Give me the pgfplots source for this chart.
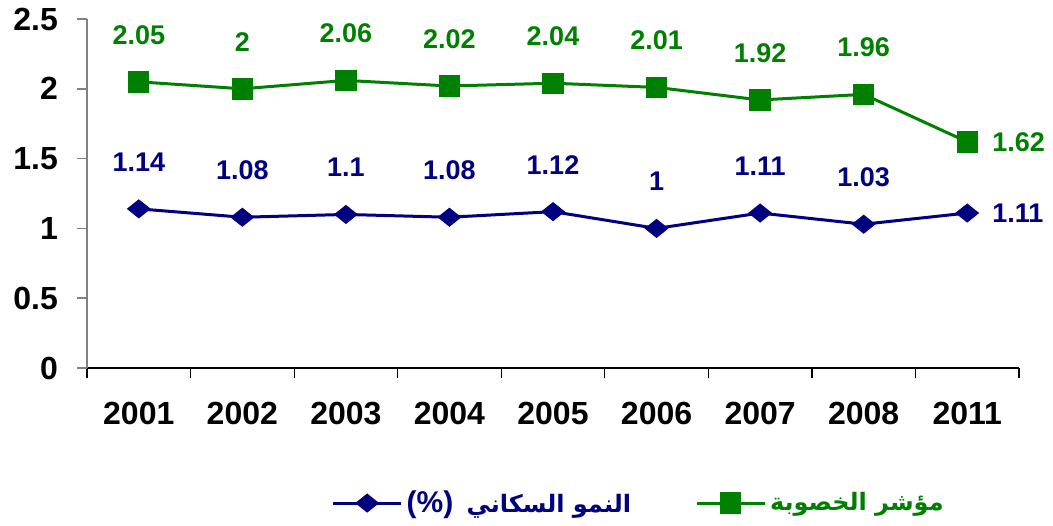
\documentclass[border=0pt]{standalone}
\usepackage{fontspec}
\setmainfont{Liberation Sans}
\newfontfamily\arabicfont[Script=Arabic]{DejaVu Sans}
\TeXXeTstate=1
\usepackage{pgfplots}
\pgfplotsset{compat=1.18}
\definecolor{cgreen}{RGB}{0,128,0}
\definecolor{cblue}{RGB}{0,0,128}
\pgfdeclareplotmark{mydiamond}{%
  \pgfpathmoveto{\pgfqpoint{-6pt}{0pt}}%
  \pgfpathlineto{\pgfqpoint{0pt}{4.8pt}}%
  \pgfpathlineto{\pgfqpoint{6pt}{0pt}}%
  \pgfpathlineto{\pgfqpoint{0pt}{-4.8pt}}%
  \pgfpathclose
  \pgfusepathqfill}
\begin{document}
\begin{tikzpicture}
\begin{axis}[name=ax, scale only axis, width=466pt, height=174.5pt,
  xmin=-0.5, xmax=8.5, ymin=0, ymax=2.5,
  /pgf/number format/assume math mode=true,
  ytick={0,0.5,1,1.5,2,2.5},
  xtick={0,...,8},
  xticklabels={2001,2002,2003,2004,2005,2006,2007,2008,2011},
  major x tick style={draw=none},
  minor xtick={-0.5,0.5,...,8.5},
  tick align=outside,
  major tick length=5pt, minor tick length=5pt,
  axis lines*=left,
  x axis line style={black, line width=0.8pt},
  y axis line style={gray, line width=0.8pt},
  y tick style={gray, line width=0.8pt},
  minor x tick style={black, line width=0.6pt},
  xticklabel style={font=\fontsize{16}{18}\selectfont\bfseries, yshift=-8.5pt},
  yticklabel style={font=\fontsize{16}{18}\selectfont\bfseries, xshift=-6pt},
  legend style={at={(0.593,-0.387)}, anchor=center, draw=none, fill=none,
    legend columns=2, font=\fontsize{12}{14}\selectfont\bfseries,
    /tikz/every even column/.append style={column sep=30pt}},
  legend image code/.code={\draw[mark repeat=2,mark phase=2,#1] plot coordinates {(0pt,0pt) (17pt,0pt) (34pt,0pt)};},
  clip=false,
]
\addplot[cblue, line width=1.5pt, mark=mydiamond]
  coordinates {(0,1.14)(1,1.08)(2,1.1)(3,1.08)(4,1.12)(5,1)(6,1.11)(7,1.03)(8,1.11)};
\addlegendentry{\textcolor{cblue}{{\fontsize{15}{16}\selectfont(\%)}\ \ {\arabicfont\bfseries\beginR النمو السكاني\endR}}}
\addplot[cgreen, line width=1.5pt, mark=square*, mark size=4.6pt, mark options={solid}]
  coordinates {(0,2.05)(1,2)(2,2.06)(3,2.02)(4,2.04)(5,2.01)(6,1.92)(7,1.96)(8,1.62)};
\addlegendentry{\textcolor{cgreen}{\arabicfont\bfseries\beginR مؤشر الخصوبة\endR}}
% labels
\addplot[forget plot, draw=none, mark=none, nodes near coords, point meta=y,
  every node near coord/.append style={text=cblue, font=\fontsize{13.5}{15}\selectfont\bfseries, anchor=center, yshift=23.5pt}]
  coordinates {(0,1.14)(1,1.08)(2,1.1)(3,1.08)(4,1.12)(5,1)(6,1.11)(7,1.03)};
\addplot[forget plot, draw=none, mark=none, nodes near coords, point meta=y,
  every node near coord/.append style={text=cblue, font=\fontsize{13.5}{15}\selectfont\bfseries, anchor=west, xshift=9pt}]
  coordinates {(8,1.11)};
\addplot[forget plot, draw=none, mark=none, nodes near coords, point meta=y,
  every node near coord/.append style={text=cgreen, font=\fontsize{13.5}{15}\selectfont\bfseries, anchor=center, yshift=23.5pt}]
  coordinates {(0,2.05)(1,2)(2,2.06)(3,2.02)(4,2.04)(5,2.01)(6,1.92)(7,1.96)};
\addplot[forget plot, draw=none, mark=none, nodes near coords, point meta=y,
  every node near coord/.append style={text=cgreen, font=\fontsize{13.5}{15}\selectfont\bfseries, anchor=west, xshift=9pt}]
  coordinates {(8,1.62)};
\end{axis}
\pgfresetboundingbox
\useasboundingbox ([shift={(-43.5pt,-78.5pt)}]ax.south west) rectangle ([shift={(17pt,9.5pt)}]ax.north east);
\end{tikzpicture}
\end{document}
